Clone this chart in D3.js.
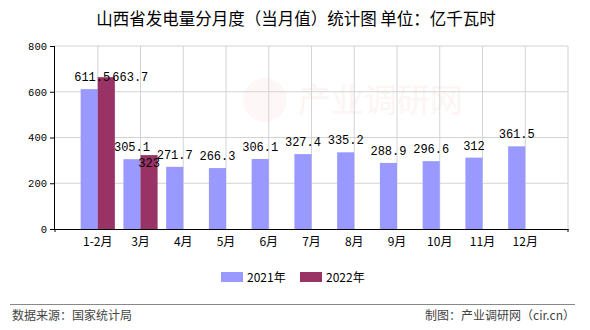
<!DOCTYPE html>
<html><head><meta charset="utf-8">
<script src="https://cdn.jsdelivr.net/npm/d3@7"></script>
<style>body{margin:0;background:#fff}svg{display:block}</style>
</head><body>
<script>
const categories = ["1-2月","3月","4月","5月","6月","7月","8月","9月","10月","11月","12月"];
const values2021 = [611.5,305.1,271.7,266.3,306.1,327.4,335.2,288.9,296.6,312,361.5];
const values2022 = [663.7,323];
const seriesNames = ["2021年","2022年"];
const yTicks = [0,200,400,600,800];
const colors = ["#9999FF","#993366"];

const W=590,H=330;
const svg=d3.select("body").append("svg").attr("width",W).attr("height",H);
const L=55,R=568,T=46,B=229;
const x=d3.scalePoint().domain(categories).range([L,R]).padding(1);
const y=d3.scaleLinear().domain([0,800]).range([B,T]);
const bw=x.step()*0.4;

// watermark
svg.append("circle").attr("cx",265).attr("cy",100).attr("r",22).attr("fill","#fef7f7");
svg.append("text").attr("x",298).attr("y",112).attr("font-family","Noto Sans CJK SC").attr("font-size",33).attr("fill","#fdf4f4").text("产业调研网");

// grid
const g=svg.append("g");
g.selectAll("line.h").data(yTicks.filter(d=>d>0)).join("line")
 .attr("x1",L).attr("x2",R).attr("y1",d=>y(d)).attr("y2",d=>y(d)).attr("stroke","#d3d3d3");
g.selectAll("line.v").data(categories).join("line")
 .attr("x1",d=>x(d)).attr("x2",d=>x(d)).attr("y1",T).attr("y2",B).attr("stroke","#d3d3d3");
g.append("line").attr("x1",R).attr("x2",R).attr("y1",T).attr("y2",B).attr("stroke","#d3d3d3");

// bars
const series=[values2021,values2022];
series.forEach((vals,si)=>{
  svg.append("g").selectAll("rect").data(vals).join("rect")
   .attr("x",(d,i)=>x(categories[i])+(si===0?-bw:0))
   .attr("y",d=>y(d)).attr("width",bw).attr("height",d=>B-y(d))
   .attr("fill",colors[si]);
});

// axes
const ya=svg.append("g").attr("transform",`translate(${L},0)`)
 .call(d3.axisLeft(y).tickValues(yTicks).tickSize(5).tickPadding(3).tickFormat(d3.format("d")));
ya.select(".domain").attr("stroke","#000").attr("d",`M-0.5,${T}V${B}`);
ya.selectAll("line").attr("stroke","#000");
ya.selectAll("text").attr("font-family","Liberation Mono").attr("font-size",10.5).attr("fill","#000");

svg.append("line").attr("x1",L).attr("x2",R+0.5).attr("y1",B+0.5).attr("y2",B+0.5).attr("stroke","#000");
[L,R].forEach(v=>svg.append("line").attr("x1",v).attr("x2",v).attr("y1",B).attr("y2",B+3).attr("stroke","#000"));
svg.append("g").selectAll("text").data(categories).join("text")
 .attr("x",d=>x(d)).attr("y",246).attr("text-anchor","middle")
 .attr("font-family","Noto Sans CJK SC").attr("font-size",12).attr("fill","#000").text(d=>d);

// value labels (with overlap nudges)
const nudge={"0-0":[3,0],"1-0":[24,12],"1-1":[0,20]};
series.forEach((vals,si)=>{
  svg.append("g").selectAll("text").data(vals).join("text")
   .attr("x",(d,i)=>x(categories[i])+(si===0?-bw/2:bw/2)+((nudge[si+"-"+i]||[0,0])[0]))
   .attr("y",(d,i)=>y(d)-8+((nudge[si+"-"+i]||[0,0])[1]))
   .attr("text-anchor","middle").attr("font-family","Liberation Mono").attr("font-size",12)
   .attr("fill","#000").text(d=>d);
});

// title
svg.append("text").attr("x",296).attr("y",25).attr("text-anchor","middle")
 .attr("font-family","Noto Sans CJK SC").attr("font-size",16.5).attr("fill","#000")
 .text("山西省发电量分月度（当月值）统计图 单位：亿千瓦时");

// legend
const lg=svg.append("g");
const lx=[221,300];
seriesNames.forEach((n,i)=>{
  lg.append("rect").attr("x",lx[i]).attr("y",272).attr("width",22).attr("height",10).attr("fill",colors[i]);
  lg.append("text").attr("x",lx[i]+26).attr("y",282).attr("font-family","Noto Sans CJK SC").attr("font-size",12).attr("fill","#000").text(n);
});

// footer
svg.append("line").attr("x1",10).attr("x2",575).attr("y1",304.5).attr("y2",304.5).attr("stroke","#888");
svg.append("text").attr("x",12).attr("y",320).attr("font-family","Noto Sans CJK SC").attr("font-size",12).attr("fill","#444").text("数据来源：国家统计局");
svg.append("text").attr("x",575).attr("y",320).attr("text-anchor","end").attr("font-family","Noto Sans CJK SC").attr("font-size",12).attr("fill","#444").text("制图：产业调研网（cir.cn）");
</script>
</body></html>
